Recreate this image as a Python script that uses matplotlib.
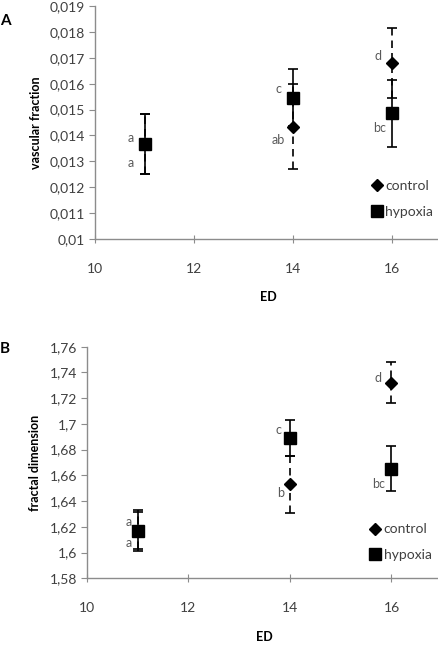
import matplotlib
matplotlib.use("Agg")
import matplotlib.pyplot as plt
from matplotlib.ticker import FuncFormatter, MultipleLocator
from matplotlib.lines import Line2D

plt.rcParams['font.family'] = ['Lato', 'DejaVu Sans']

# data
ed = [11, 14, 16]

vf_control = [0.01368, 0.01434, 0.01681]
vf_control_err = [0.00115, 0.00164, 0.00135]
vf_hypoxia = [0.01367, 0.01546, 0.01486]
vf_hypoxia_err = [0.00116, 0.00111, 0.00130]
vf_control_letters = ["a", "ab", "d"]
vf_hypoxia_letters = ["a", "c", "bc"]

fd_control = [1.617, 1.653, 1.732]
fd_control_err = [0.0145, 0.022, 0.016]
fd_hypoxia = [1.617, 1.689, 1.665]
fd_hypoxia_err = [0.016, 0.014, 0.0175]
fd_control_letters = ["a", "b", "d"]
fd_hypoxia_letters = ["a", "c", "bc"]

grey = "#8c8c8c"
txt = "#404040"


def comma(v, pos):
    return "{:g}".format(round(v, 4)).replace(".", ",")


def panel(ax, ctrl, ctrl_err, hyp, hyp_err, ylim, ystep, ylabel,
          ctrl_letters, hyp_letters, ctrl_off, hyp_off, leg_anchor):
    # control: diamond, dashed error bars
    c = ax.errorbar(ed, ctrl, yerr=ctrl_err, fmt="D", color="black", ms=6.5,
                    ecolor="black", elinewidth=1.2, capsize=3.5, capthick=1.2,
                    zorder=3)
    c[2][0].set_linestyle((0, (4.5, 3)))
    # hypoxia: square, solid error bars
    ax.errorbar(ed, hyp, yerr=hyp_err, fmt="s", color="black", ms=8.5,
                ecolor="black", elinewidth=1.2, capsize=3.5, capthick=1.2,
                zorder=4)

    for x, y, s, off in zip(ed, ctrl, ctrl_letters, ctrl_off):
        ax.annotate(s, (x, y), xytext=off, textcoords="offset points",
                    ha="center", va="center", fontsize=9, color="#595959")
    for x, y, s, off in zip(ed, hyp, hyp_letters, hyp_off):
        ax.annotate(s, (x, y), xytext=off, textcoords="offset points",
                    ha="center", va="center", fontsize=9, color="#595959")

    ax.set_xlim(10, 17)
    ax.set_ylim(*ylim)
    ax.xaxis.set_major_locator(MultipleLocator(2))
    ax.yaxis.set_major_locator(MultipleLocator(ystep))
    ax.yaxis.set_major_formatter(FuncFormatter(comma))
    for s in ["top", "right"]:
        ax.spines[s].set_visible(False)
    for s in ["left", "bottom"]:
        ax.spines[s].set_color(grey)
        ax.spines[s].set_linewidth(1.0)
    ax.tick_params(axis="y", direction="out", length=4, color=grey,
                   labelsize=10, labelcolor=txt, pad=3)
    ax.tick_params(axis="x", direction="inout", length=6, color=grey,
                   labelsize=10, labelcolor=txt, pad=14)
    ax.set_ylabel(ylabel, fontsize=9, fontweight="bold", labelpad=6)
    ax.set_xlabel("ED", fontsize=9, fontweight="bold", labelpad=12)

    handles = [
        Line2D([], [], marker="D", color="black", ls="none", ms=6.5),
        Line2D([], [], marker="s", color="black", ls="none", ms=8.5),
    ]
    ax.legend(handles, ["control", "hypoxia"], loc="center left",
              bbox_to_anchor=leg_anchor, frameon=False, fontsize=10,
              handlelength=0.6, handletextpad=0.3, labelspacing=1.0,
              borderpad=0, labelcolor=txt)


fig = plt.figure(figsize=(4.39, 6.47), dpi=100)
ax1 = fig.add_axes([0.2164, 0.6306, 0.79, 0.3601])
ax2 = fig.add_axes([0.1975, 0.1062, 0.81, 0.3579])

panel(ax1, vf_control, vf_control_err, vf_hypoxia, vf_hypoxia_err,
      (0.01, 0.019), 0.001, "vascular fraction",
      vf_control_letters, vf_hypoxia_letters,
      [(-9.6, -13.7), (-10.8, -9.6), (-10, 4.8)],
      [(-9.6, 4.3), (-10.8, 6.3), (-9.4, -10.6)],
      (0.78, 0.172))
panel(ax2, fd_control, fd_control_err, fd_hypoxia, fd_hypoxia_err,
      (1.58, 1.76), 0.02, "fractal dimension",
      fd_control_letters, fd_hypoxia_letters,
      [(-6.5, -8.9), (-6.5, -6.5), (-10, 3.6)],
      [(-6.5, 6.3), (-8, 5.8), (-9.4, -10.8)],
      (0.78, 0.155))

fig.text(0.0, 0.968, "A", fontsize=11, fontweight="bold", ha="left", va="center")
fig.text(0.0, 0.460, "B", fontsize=11, fontweight="bold", ha="left", va="center")

fig.savefig("out.png", dpi=100)
